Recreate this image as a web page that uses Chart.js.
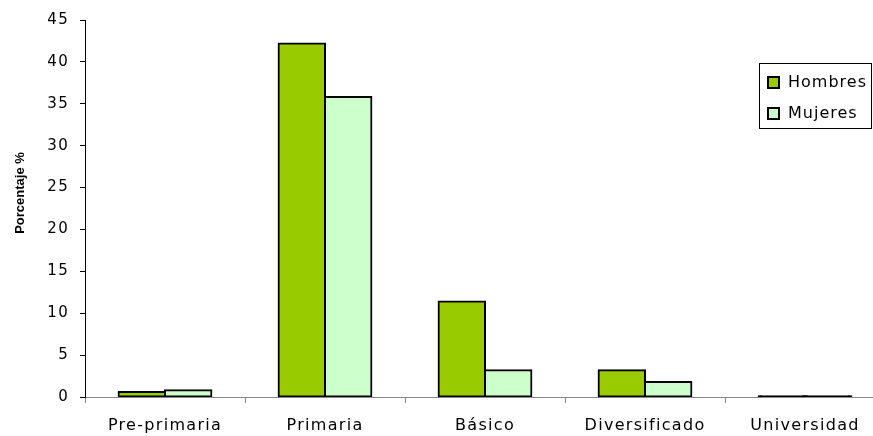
<!DOCTYPE html>
<html>
<head>
<meta charset="utf-8">
<script src="https://cdn.jsdelivr.net/npm/chart.js@4"></script>
<style>
  html, body { margin: 0; padding: 0; background: #fff; overflow: hidden; }
  #wrap { width: 890px; height: 436px; }
</style>
</head>
<body>
<div id="wrap"><canvas id="grafica"></canvas></div>
<script>
// niveles educativos y porcentajes por sexo
const niveles = ["Pre-primaria", "Primaria", "Básico", "Diversificado", "Universidad"];
const hombres = [0.6, 42.2, 11.4, 3.2, 0.1];
const mujeres = [0.8, 35.8, 3.2, 1.8, 0.1];
const yTicks = [0, 5, 10, 15, 20, 25, 30, 35, 40, 45];

const FONT = "'DejaVu Sans', Verdana, sans-serif";

// barras muy bajas: solo se ve el borde negro
function relleno(color) {
  return ctx => (ctx.raw !== undefined && ctx.raw < 0.3) ? "#000" : color;
}

// espaciado de letras como en el texto original
const espaciado = {
  id: "espaciado",
  beforeDraw(chart) { chart.ctx.letterSpacing = "1.3px"; },
  afterDraw(chart) { chart.ctx.letterSpacing = "0px"; }
};

// titulo vertical del eje y
const tituloY = {
  id: "tituloY",
  afterDraw(chart) {
    const ctx = chart.ctx;
    ctx.save();
    ctx.letterSpacing = "0px";
    ctx.translate(20, 193);
    ctx.rotate(-Math.PI / 2);
    ctx.font = "bold 13px 'Liberation Sans', Arial, sans-serif";
    ctx.fillStyle = "#000";
    ctx.textAlign = "center";
    ctx.textBaseline = "middle";
    ctx.fillText("Porcentaje %", 0, 0);
    ctx.restore();
  }
};

// leyenda con recuadro
const leyenda = {
  id: "leyenda",
  afterDraw(chart) {
    const ctx = chart.ctx;
    ctx.save();
    ctx.letterSpacing = "1px";
    ctx.fillStyle = "#fff";
    ctx.fillRect(759.5, 63.5, 112, 65);
    ctx.strokeStyle = "#000";
    ctx.lineWidth = 1;
    ctx.strokeRect(759.5, 63.5, 112, 65);
    chart.data.datasets.forEach((ds, i) => {
      const y = 77 + i * 31;
      ctx.fillStyle = ds.color;
      ctx.fillRect(768, y, 11, 11);
      ctx.lineWidth = 2;
      ctx.strokeRect(768, y, 11, 11);
      ctx.fillStyle = "#000";
      ctx.font = "16px " + FONT;
      ctx.textBaseline = "middle";
      ctx.fillText(ds.label, 788, y + 6);
    });
    ctx.restore();
  }
};

const grafica = document.getElementById("grafica").getContext("2d");

new Chart(grafica, {
  type: "bar",
  data: {
    labels: niveles,
    datasets: [
      {
        label: "Hombres",
        data: hombres,
        color: "#99CC00",
        backgroundColor: relleno("#99CC00"),
        borderColor: "#000",
        borderWidth: 2,
        borderSkipped: false,
        inflateAmount: 1
      },
      {
        label: "Mujeres",
        data: mujeres,
        color: "#CCFFCC",
        backgroundColor: relleno("#CCFFCC"),
        borderColor: "#000",
        borderWidth: 2,
        borderSkipped: false,
        inflateAmount: 1
      }
    ]
  },
  options: {
    responsive: true,
    maintainAspectRatio: false,
    animation: false,
    events: [],
    datasets: { bar: { categoryPercentage: 0.58, barPercentage: 1 } },
    layout: { padding: { top: 20, right: 5, left: 0, bottom: 0 } },
    plugins: { legend: { display: false }, tooltip: { enabled: false } },
    scales: {
      x: {
        afterFit(scale) { scale.height = 39; },
        border: { color: "#888", width: 1 },
        grid: { drawOnChartArea: false, tickLength: 6, color: "#888", offset: true },
        ticks: { color: "#000", font: { family: FONT, size: 16 }, padding: 13, maxRotation: 0 }
      },
      y: {
        min: 0,
        max: 45,
        afterFit(scale) { scale.width = 85; },
        afterBuildTicks(scale) { scale.ticks = yTicks.map(v => ({ value: v })); },
        border: { color: "#000", width: 1 },
        grid: { drawOnChartArea: false, tickLength: 5, color: "#000" },
        ticks: { color: "#000", font: { family: FONT, size: 15 }, padding: 11 }
      }
    }
  },
  plugins: [espaciado, tituloY, leyenda]
});
</script>
</body>
</html>
